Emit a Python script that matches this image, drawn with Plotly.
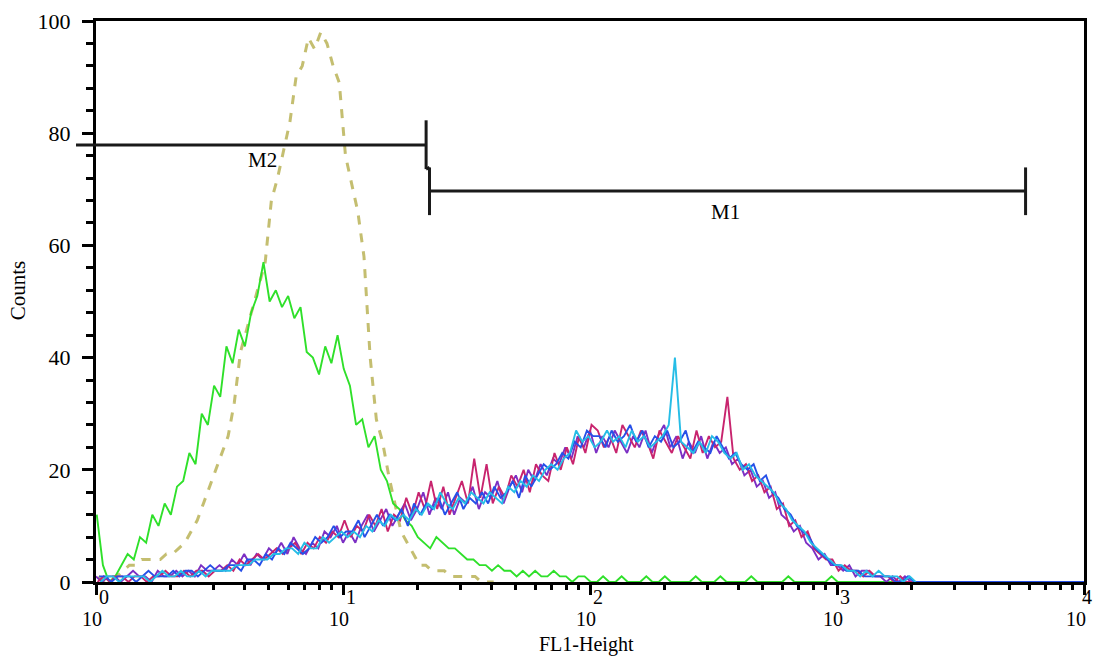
import numpy as np
import plotly.graph_objects as go

# ---------------- data ----------------
STEP = 0.025  # channel width in log10 units

olive_counts = [1,0,1,1,2,3,3,4,4,4,4,5,5,6,7,9,11,14,17,20,23,
                26,32,41,45,49,53,57,68,72,77,82,90,92,97,95,98,96,92,89,76,
                71,66,58,40,29,25,19,14,9,7,5,3,3,2,2,2,1,1,1,1,1,0,0,0]

green_counts = [12,3,0,1,3,5,4,8,7,12,10,14,12,17,18,23,21,30,28,35,33,
                42,39,45,42,48,51,57,50,52,49,51,47,49,41,40,37,42,39,44,38,
                35,28,29,24,26,20,18,14,13,11,10,8,7,6,8,7,6,6,5,4,
                4,3,3,2,3,2,2,1,2,1,2,1,1,2,1,1,0,1,1,0,
                0,1,0,0,1,0,0,0,1,0, 0,1,0,0,0,0,1,0,0,0,
                1,0,0,0,0,1,0,0,0,0, 0,1,0,0,0,0,0,0,1,0,
                0,0,0,0,0,0,0,0,0,0]

purple_counts = [1,0,1,1,0,1,2,1,1,0,2,1,1,2,1,2,1,3,2,2,3,
                 2,4,3,5,3,5,4,6,5,7,5,8,6,5,7,6,9,8,10,7,
                 9,7,10,12,9,11,13,10,12,14,11,13,16,12,15,13,16,12,15,14,
                 17,13,16,15,18,14,17,19,16,20,18,21,19,22,21,24,22,26,24,27,
                 23,26,24,27,25,23,26,24,27,23,26,28,24,26,22,25,23,26,22,25,
                 23,24,21,22,19,20,17,18,15,16,12,11,9,10,7,6,4,5,3,3,
                 2,3,1,2,2,1,1,0,1,0,1,0]

magenta_counts = [0,1,0,1,1,0,1,1,0,1,1,2,1,1,2,1,2,2,1,2,2,
                  3,2,4,3,4,5,4,5,6,5,6,7,5,7,6,8,7,9,8,11,
                  8,10,9,12,10,13,9,12,11,15,12,16,13,18,13,17,12,15,18,14,
                  22,15,21,14,17,15,19,17,20,16,21,19,18,23,20,24,21,26,23,28,
                  27,24,26,23,28,26,24,27,25,22,27,25,23,26,24,22,27,23,26,24,
                  25,33,22,20,21,18,19,16,17,13,14,10,11,8,9,6,5,4,4,2,
                  3,2,2,1,2,1,1,1,0,1,0,0]

blue_counts = [1,1,0,1,1,1,0,1,2,1,1,1,2,1,2,2,1,2,3,2,2,
               3,3,2,4,4,3,5,4,6,5,7,6,5,6,8,7,8,10,8,9,
               9,11,8,10,12,10,12,11,13,10,14,12,14,13,15,12,14,16,13,15,
               14,16,14,17,15,16,18,15,19,17,19,21,20,21,23,22,25,24,27,26,
               26,24,27,25,26,28,25,27,24,26,25,27,24,25,27,23,25,24,23,26,
               24,22,23,21,20,21,18,19,16,15,13,12,10,9,8,6,5,4,3,3,
               2,2,2,1,1,1,1,1,0,0,1,0,
               0,0,0,0,0,0,0,0,0,0,0,0,0,0,0,0,0,0,0,0,0,0,0,0,0,0,0,0]

cyan_counts = [0,1,1,0,1,1,1,1,0,1,2,1,1,2,1,1,2,1,2,2,2,
               2,3,3,3,4,4,4,5,5,6,6,5,7,6,6,8,7,8,9,8,
               9,8,10,9,11,10,12,11,12,11,13,12,14,13,16,14,13,15,14,16,
               15,14,16,15,14,17,16,18,17,19,18,20,21,20,22,23,27,25,26,24,
               25,27,25,26,24,27,25,26,24,25,26,28,40,25,24,23,25,23,26,25,
               23,22,23,20,21,19,18,17,16,14,13,11,10,9,7,6,5,4,3,3,
               2,2,1,2,1,2,1,1,1,0,1,0]

# marker gates (FL1 values) and their drawing levels (counts)
m2_range = [0.83, 21.7]
m1_range = [22.4, 5800]
m2_level, m2_tick = 77.9, [73.6, 82.3]
m1_level, m1_tick = 69.7, [65.4, 73.9]
m2_label_pos = [4.7, 75.2]
m1_label_pos = [355.0, 66.0]

y_ticks = [0, 20, 40, 60, 80, 100]
x_decades = [0, 1, 2, 3, 4]

SERIF = "Liberation Serif"


def channels(n, offset):
    return 10 ** (offset + STEP * np.arange(n))


series = [
    ("olive", olive_counts, 0.010, "rgba(160,150,25,0.62)", 3.0, "dash"),
    ("green", green_counts, 0.003, "#2fe02a", 1.9, "solid"),
    ("purple", purple_counts, 0.0, "#7c2fc4", 1.9, "solid"),
    ("magenta", magenta_counts, 0.00625, "#c8246e", 1.9, "solid"),
    ("blue", blue_counts, 0.0125, "#2650e8", 1.9, "solid"),
    ("cyan", cyan_counts, 0.01875, "#26bde6", 1.9, "solid"),
]

fig = go.Figure()
for name, vals, off, col, w, dash in series:
    fig.add_trace(go.Scatter(
        x=channels(len(vals), off), y=vals, mode="lines", name=name,
        line=dict(color=col, width=w, dash=dash), showlegend=False,
        hoverinfo="skip"))


def px(v):
    return float(np.log10(v) / 4.0)


shapes = []
line_style = dict(color="#1a1a1a", width=3)
# M2
shapes.append(dict(type="line", xref="paper", yref="y", x0=px(m2_range[0]), x1=px(m2_range[1]),
                   y0=m2_level, y1=m2_level, line=line_style))
shapes.append(dict(type="line", xref="paper", yref="y", x0=px(m2_range[1]), x1=px(m2_range[1]),
                   y0=m2_tick[0], y1=m2_tick[1], line=line_style))
# M1
shapes.append(dict(type="line", xref="paper", yref="y", x0=px(m1_range[0]), x1=px(m1_range[1]),
                   y0=m1_level, y1=m1_level, line=line_style))
for v in m1_range:
    shapes.append(dict(type="line", xref="paper", yref="y", x0=px(v), x1=px(v),
                       y0=m1_tick[0], y1=m1_tick[1], line=line_style))
shapes.append(dict(type="line", xref="paper", yref="y", x0=px(m2_range[1]), x1=px(m1_range[0]),
                   y0=m2_tick[0], y1=m1_tick[1], line=line_style))

annotations = []
for d in x_decades:
    last = d == x_decades[-1]
    annotations.append(dict(text="10", xref="paper", yref="paper", x=d / 4.0, y=0,
                            xanchor="center", yanchor="middle", xshift=-8 if last else -4,
                            yshift=-37, showarrow=False, borderpad=0,
                            font=dict(family=SERIF, size=20, color="black")))
    annotations.append(dict(text=str(d), xref="paper", yref="paper", x=d / 4.0, y=0,
                            xanchor="center", yanchor="middle", xshift=3 if last else 8,
                            yshift=-15, showarrow=False, borderpad=0,
                            font=dict(family=SERIF, size=20, color="black")))

annotations.append(dict(text="M2", xref="paper", yref="y", x=px(m2_label_pos[0]), y=m2_label_pos[1],
                        xanchor="center", yanchor="middle",
                        showarrow=False, font=dict(family=SERIF, size=21, color="black")))
annotations.append(dict(text="M1", xref="paper", yref="y", x=px(m1_label_pos[0]), y=m1_label_pos[1],
                        xanchor="center", yanchor="middle",
                        showarrow=False, font=dict(family=SERIF, size=21, color="black")))
annotations.append(dict(text="Counts", xref="paper", yref="paper", x=0, y=0.52, xshift=-78,
                        xanchor="center", yanchor="middle", textangle=-90, showarrow=False,
                        font=dict(family=SERIF, size=21, color="black")))
annotations.append(dict(text="FL1-Height", xref="paper", yref="paper", x=0.496, y=0, yshift=-62,
                        xanchor="center", yanchor="middle", showarrow=False, borderpad=0,
                        font=dict(family=SERIF, size=20, color="black")))

fig.update_layout(
    width=1094, height=656,
    margin=dict(l=96, r=7, t=21, b=74),
    paper_bgcolor="white", plot_bgcolor="white",
    font=dict(family=SERIF, color="black"),
    shapes=shapes, annotations=annotations,
    xaxis=dict(type="log", range=[0, 4], dtick=1, showticklabels=False,
               showgrid=False, zeroline=False, showline=True, linecolor="black",
               linewidth=3, mirror=True, ticks="outside", ticklen=10, tickwidth=3,
               tickcolor="black",
               minor=dict(ticks="outside", ticklen=5, tickwidth=3, tickcolor="black",
                          dtick="D1", showgrid=False)),
    yaxis=dict(range=[0, 100], tickvals=y_ticks, showgrid=False, zeroline=False,
               showline=True, linecolor="black", linewidth=3, mirror=True,
               ticks="outside", ticklen=11, tickwidth=3, tickcolor="black",
               ticklabelstandoff=7,
               tickfont=dict(family=SERIF, size=22, color="black"),
               minor=dict(ticks="outside", ticklen=7, tickwidth=3, tickcolor="black",
                          dtick=4, showgrid=False)),
)

fig.write_html("out.html", config={"displayModeBar": False},
               post_script="document.body.style.margin='0px';"
                           "document.body.style.overflow='hidden';")
